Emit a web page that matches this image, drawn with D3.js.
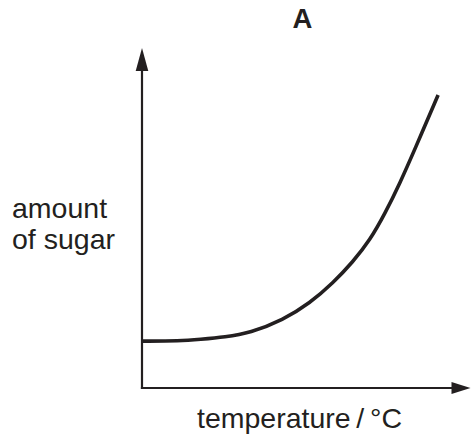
<!DOCTYPE html>
<html>
<head>
<meta charset="utf-8">
<script src="https://cdn.jsdelivr.net/npm/d3@7"></script>
<style>
  html, body { margin: 0; padding: 0; background: #fff; }
  svg { display: block; }
  text { font-family: "Liberation Sans", Arial, Helvetica, sans-serif; fill: #231f20; }
</style>
</head>
<body>
<svg id="chart" width="471" height="439"></svg>
<script>
// Data (arbitrary units, axes have no ticks)
const temperature = [0, 12.7, 19.3, 27.7, 36, 47, 56, 63.7, 70.3, 76, 81, 86, 91, 98.7];
const sugar       = [13.8, 13.8, 14.3, 15.0, 16.2, 20, 25, 30.9, 37.1, 43.5, 51.3, 60.3, 70.3, 86.2];
const titleText = ["A"];
const yLabelLines = ["amount", "of sugar"];
const xLabelText = ["temperature\u2009/\u2009°C"];

const ink = "#231f20";
const svg = d3.select("#chart");

const x = d3.scaleLinear().domain([0, 100]).range([142, 442]);
const y = d3.scaleLinear().domain([0, 100]).range([388, 48]);

const x0 = x(0), y0 = y(0);
const xEnd = 470.5, yTop = y(100);

// Axes lines
svg.append("line").attr("x1", x0).attr("y1", y0 + 1.1).attr("x2", x0).attr("y2", yTop + 18)
  .attr("stroke", ink).attr("stroke-width", 2.2);
svg.append("line").attr("x1", x0 - 1.1).attr("y1", y0).attr("x2", xEnd - 16).attr("y2", y0)
  .attr("stroke", ink).attr("stroke-width", 2.2);

// Arrowheads
svg.append("path")
  .attr("d", `M${x0},${yTop} L${x0 + 6.3},${yTop + 23} L${x0 - 6.3},${yTop + 23} Z`)
  .attr("fill", ink);
svg.append("path")
  .attr("d", `M${xEnd},${y0} L${xEnd - 19},${y0 - 6} L${xEnd - 19},${y0 + 6} Z`)
  .attr("fill", ink);

// Curve
const pts = temperature.map((t, i) => [t, sugar[i]]);
const line = d3.line().x(d => x(d[0])).y(d => y(d[1])).curve(d3.curveBasis);
svg.append("path").datum(pts).attr("d", line)
  .attr("fill", "none").attr("stroke", ink).attr("stroke-width", 3.6)
  .attr("stroke-linecap", "butt");

// Texts
svg.append("text").attr("x", 302.5).attr("y", 28).attr("text-anchor", "middle")
  .attr("font-size", 27.5).attr("font-weight", "bold").text(titleText[0]);

svg.append("text").attr("x", 12).attr("y", 218).attr("font-size", 28.5).text(yLabelLines[0]);
svg.append("text").attr("x", 12).attr("y", 249).attr("font-size", 28.5).text(yLabelLines[1]);

svg.append("text").attr("x", 197).attr("y", 428).attr("font-size", 28.5).text(xLabelText[0]);
</script>
</body>
</html>
